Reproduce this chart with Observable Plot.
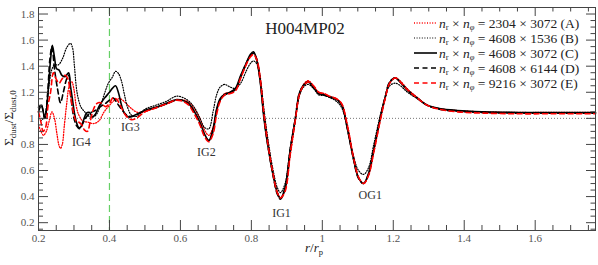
<!DOCTYPE html>
<html>
<head>
<meta charset="utf-8">
<script src="https://cdn.jsdelivr.net/npm/d3@7"></script>
<script src="https://cdn.jsdelivr.net/npm/@observablehq/plot@0.6"></script>
<style>
  html, body { margin: 0; padding: 0; background: #fff; }
  #chart { width: 598px; height: 265px; }
</style>
</head>
<body>
<div id="chart"></div>
<script>
// ---------- data ----------
const rOuter = [0.5, 0.53, 0.56, 0.59, 0.62, 0.64, 0.655, 0.668, 0.68, 0.692, 0.702, 0.712, 0.725, 0.74, 0.755, 0.77, 0.785, 0.797, 0.806, 0.815, 0.825, 0.835, 0.845, 0.86, 0.873, 0.882, 0.895, 0.91, 0.924, 0.935, 0.947, 0.96, 0.975, 0.99, 1.005, 1.02, 1.04, 1.055, 1.07, 1.087, 1.102, 1.116, 1.13, 1.145, 1.163, 1.177, 1.19, 1.206, 1.22, 1.24, 1.268, 1.296, 1.33, 1.38, 1.45, 1.55, 1.65, 1.77];

// (A) 2304 x 3072 red dotted
const rInA = [0.2, 0.207, 0.214, 0.222, 0.23, 0.238, 0.245, 0.252, 0.258, 0.262, 0.267, 0.273, 0.279, 0.286, 0.294, 0.3, 0.306, 0.313, 0.325, 0.34, 0.355, 0.37, 0.385, 0.4, 0.415, 0.43, 0.445, 0.46, 0.475, 0.49];
const vInA = [0.95, 0.9, 0.87, 0.9, 0.98, 1.05, 1.0, 0.88, 0.79, 0.77, 0.8, 0.95, 1.1, 1.24, 1.28, 1.22, 1.1, 1.03, 0.98, 0.97, 0.96, 0.98, 1.05, 1.1, 1.14, 1.15, 1.12, 1.08, 1.05, 1.045];
const vOutA = [1.05, 1.08, 1.11, 1.14, 1.13, 1.07, 1.0, 0.91, 0.87, 0.93, 1.05, 1.14, 1.19, 1.2, 1.22, 1.31, 1.41, 1.48, 1.5, 1.46, 1.32, 1.06, 0.86, 0.6, 0.44, 0.39, 0.45, 0.72, 0.98, 1.17, 1.26, 1.29, 1.25, 1.2, 1.19, 1.17, 1.15, 1.11, 0.96, 0.72, 0.55, 0.5, 0.56, 0.74, 0.98, 1.15, 1.27, 1.31, 1.285, 1.225, 1.16, 1.1, 1.075, 1.06, 1.05, 1.045, 1.045, 1.045];

// (B) 4608 x 1536 black dotted
const rInB = [0.2, 0.208, 0.217, 0.225, 0.231, 0.237, 0.245, 0.256, 0.268, 0.279, 0.29, 0.296, 0.301, 0.307, 0.313, 0.321, 0.332, 0.346, 0.36, 0.375, 0.386, 0.397, 0.408, 0.417, 0.425, 0.434, 0.442, 0.451, 0.462, 0.476];
const vInB = [1.0, 0.985, 1.02, 1.14, 1.28, 1.37, 1.41, 1.41, 1.46, 1.54, 1.575, 1.54, 1.41, 1.23, 1.14, 1.08, 1.045, 1.01, 1.02, 1.1, 1.19, 1.27, 1.315, 1.36, 1.345, 1.285, 1.185, 1.085, 1.025, 1.015];
const vOutB = [1.07, 1.1, 1.13, 1.17, 1.14, 1.08, 1.0, 0.93, 0.92, 1.05, 1.18, 1.24, 1.26, 1.24, 1.23, 1.27, 1.36, 1.42, 1.44, 1.42, 1.3, 1.08, 0.87, 0.62, 0.47, 0.43, 0.5, 0.78, 1.0, 1.17, 1.24, 1.26, 1.23, 1.18, 1.175, 1.16, 1.13, 1.08, 0.93, 0.72, 0.6, 0.57, 0.62, 0.8, 1.02, 1.16, 1.25, 1.27, 1.25, 1.2, 1.15, 1.1, 1.075, 1.06, 1.05, 1.045, 1.045, 1.045];

// (C) 4608 x 3072 black solid
const rInC = [0.2, 0.208, 0.218, 0.228, 0.234, 0.239, 0.245, 0.251, 0.258, 0.266, 0.275, 0.285, 0.29, 0.296, 0.301, 0.307, 0.313, 0.318, 0.327, 0.335, 0.344, 0.352, 0.36, 0.372, 0.386, 0.4, 0.408, 0.417, 0.425, 0.434, 0.442, 0.454, 0.468];
const vInC = [1.085, 1.1, 1.0, 1.24, 1.45, 1.56, 1.47, 1.38, 1.37, 1.33, 1.32, 1.35, 1.25, 1.14, 1.045, 0.97, 0.93, 0.93, 0.985, 1.04, 1.045, 1.01, 1.03, 1.1, 1.155, 1.2, 1.23, 1.25, 1.2, 1.1, 1.04, 1.01, 1.02];
const vOutC = [1.06, 1.085, 1.115, 1.145, 1.12, 1.05, 0.97, 0.88, 0.83, 0.92, 1.07, 1.15, 1.185, 1.2, 1.23, 1.33, 1.42, 1.49, 1.51, 1.45, 1.28, 1.01, 0.815, 0.58, 0.43, 0.385, 0.47, 0.77, 1.0, 1.19, 1.255, 1.28, 1.235, 1.19, 1.18, 1.165, 1.145, 1.1, 0.93, 0.7, 0.545, 0.5, 0.575, 0.76, 1.0, 1.16, 1.275, 1.31, 1.275, 1.215, 1.155, 1.1, 1.075, 1.06, 1.05, 1.045, 1.045, 1.045];

// (D) 4608 x 6144 black dashed
const rInD = [0.2, 0.208, 0.218, 0.226, 0.232, 0.238, 0.245, 0.254, 0.262, 0.27, 0.279, 0.285, 0.292, 0.3, 0.308, 0.315, 0.323, 0.332, 0.345, 0.36, 0.375, 0.389, 0.4, 0.411, 0.422, 0.437, 0.451, 0.465];
const vInD = [1.05, 1.1, 1.0, 1.2, 1.45, 1.55, 1.38, 1.22, 1.12, 1.2, 1.3, 1.33, 1.15, 1.0, 0.94, 0.92, 0.95, 1.0, 1.04, 1.06, 1.09, 1.115, 1.14, 1.155, 1.115, 1.06, 1.02, 1.015];
const vOutD = [1.06, 1.08, 1.11, 1.14, 1.12, 1.04, 0.96, 0.87, 0.83, 0.9, 1.06, 1.14, 1.18, 1.2, 1.22, 1.32, 1.42, 1.48, 1.5, 1.45, 1.29, 1.02, 0.82, 0.58, 0.42, 0.38, 0.46, 0.76, 1.0, 1.19, 1.25, 1.28, 1.24, 1.19, 1.18, 1.165, 1.145, 1.1, 0.93, 0.7, 0.54, 0.5, 0.57, 0.76, 1.0, 1.16, 1.28, 1.31, 1.28, 1.22, 1.155, 1.1, 1.07, 1.055, 1.045, 1.04, 1.04, 1.04];

// (E) 9216 x 3072 red dashed
const rInE = [0.2, 0.207, 0.213, 0.22, 0.227, 0.234, 0.242, 0.25, 0.258, 0.266, 0.275, 0.283, 0.29, 0.298, 0.306, 0.314, 0.322, 0.33, 0.338, 0.346, 0.355, 0.365, 0.375, 0.389, 0.4, 0.411, 0.422, 0.434, 0.448, 0.462, 0.475];
const vInE = [1.05, 0.97, 0.9, 0.93, 1.1, 1.2, 1.35, 1.3, 1.27, 1.3, 1.33, 1.3, 1.18, 1.05, 0.98, 0.97, 0.95, 0.91, 0.9, 0.98, 1.07, 1.115, 1.12, 1.09, 1.115, 1.16, 1.14, 1.08, 1.015, 0.99, 1.0];
const vOutE = [1.05, 1.08, 1.11, 1.14, 1.11, 1.03, 0.95, 0.86, 0.82, 0.88, 1.03, 1.13, 1.18, 1.19, 1.21, 1.31, 1.41, 1.47, 1.49, 1.45, 1.3, 1.04, 0.83, 0.59, 0.43, 0.39, 0.44, 0.74, 0.99, 1.18, 1.25, 1.28, 1.25, 1.2, 1.19, 1.17, 1.15, 1.11, 0.95, 0.71, 0.55, 0.5, 0.56, 0.74, 0.98, 1.15, 1.27, 1.31, 1.28, 1.22, 1.155, 1.1, 1.07, 1.05, 1.04, 1.035, 1.035, 1.035];

const legendNr = ["2304", "4608", "4608", "4608", "9216"];
const legendNphi = ["3072", "1536", "3072", "6144", "3072"];
const legendTag = ["A", "B", "C", "D", "E"];

const gapLabels = ["IG4", "IG3", "IG2", "IG1", "OG1"];
const gapX = [0.321, 0.459, 0.673, 0.885, 1.135];
const gapY = [0.815, 0.93, 0.738, 0.27, 0.41];

const xMajor = [0.2, 0.4, 0.6, 0.8, 1.0, 1.2, 1.4, 1.6];
const yMajor = [0.2, 0.4, 0.6, 0.8, 1.0, 1.2, 1.4, 1.6, 1.8];
const refLine = [1];
const markerLine = [0.4];
const titleText = "H004MP02";

// ---------- styles ----------
const styles = [
  {stroke: "#ff0000", strokeWidth: 1.3, strokeDasharray: "1,1.6"},
  {stroke: "#000000", strokeWidth: 1.2, strokeDasharray: "1,1.6"},
  {stroke: "#000000", strokeWidth: 1.6},
  {stroke: "#000000", strokeWidth: 1.6, strokeDasharray: "5,3.5"},
  {stroke: "#ff0000", strokeWidth: 1.6, strokeDasharray: "5,3.5"}
];

function build(rIn, vIn, vOut) {
  const pts = rIn.map((r, i) => ({r, v: vIn[i]}));
  rOuter.forEach((r, i) => pts.push({r, v: vOut[i]}));
  return pts;
}
const series = [
  build(rInA, vInA, vOutA),
  build(rInB, vInB, vOutB),
  build(rInC, vInC, vOutC),
  build(rInD, vInD, vOutD),
  build(rInE, vInE, vOutE)
];

const xMinor = d3.range(0.25, 1.77, 0.05).filter(v => Math.abs(v / 0.2 - Math.round(v / 0.2)) > 1e-6);
const yMinor = d3.range(0.15, 1.85, 0.05).filter(v => Math.abs(v / 0.2 - Math.round(v / 0.2)) > 1e-6);

const W = 598, H = 265, mL = 38, mR = 3, mT = 7, mB = 35;
const fw = W - mL - mR, fh = H - mT - mB;
const fmt = d3.format("~g");
const tickColor = "#444";

const chart = Plot.plot({
  width: W, height: H,
  marginLeft: mL, marginRight: mR, marginTop: mT, marginBottom: mB,
  style: {fontFamily: "'Liberation Serif', 'DejaVu Serif', serif", fontSize: "11px", background: "white", color: "#444", overflow: "visible"},
  x: {domain: [0.2, 1.77]},
  y: {domain: [0.14, 1.85]},
  marks: [
    Plot.ruleY(refLine, {stroke: "#666", strokeWidth: 0.9, strokeDasharray: "1,2"}),
    Plot.ruleX(markerLine, {stroke: "#66d066", strokeWidth: 1.2, strokeDasharray: "7,4"}),
    ...series.map((s, i) => Plot.line(s, {x: "r", y: "v", curve: "catmull-rom", ...styles[i]})),
    Plot.text(gapLabels, {x: (d, i) => gapX[i], y: (d, i) => gapY[i], text: d => d, fontSize: 12, fill: "#333"}),
    Plot.text([titleText], {frameAnchor: "top", dx: -12, dy: 21, fontSize: 17, fill: "#222", lineAnchor: "middle"}),
    Plot.frame({stroke: "#444", strokeWidth: 1}),
    // inward ticks, bottom & top
    Plot.ruleX(xMajor, {x: d => d, insetTop: fh - 10, stroke: tickColor}),
    Plot.ruleX(xMinor, {x: d => d, insetTop: fh - 5, stroke: tickColor}),
    Plot.ruleX(xMajor, {x: d => d, insetBottom: fh - 9, stroke: tickColor}),
    Plot.ruleX(xMinor, {x: d => d, insetBottom: fh - 4.5, stroke: tickColor}),
    // inward ticks, left & right
    Plot.ruleY(yMajor, {y: d => d, insetRight: fw - 10, stroke: tickColor}),
    Plot.ruleY(yMinor, {y: d => d, insetRight: fw - 5, stroke: tickColor}),
    Plot.ruleY(yMajor, {y: d => d, insetLeft: fw - 9, stroke: tickColor}),
    Plot.ruleY(yMinor, {y: d => d, insetLeft: fw - 4.5, stroke: tickColor}),
    Plot.axisX(xMajor, {tickSize: 0, tickPadding: 4, tickFormat: fmt, label: null, fill: "#555"}),
    Plot.axisY(yMajor, {tickSize: 0, tickPadding: 4, tickFormat: fmt, label: null, fill: "#555"})
  ]
});

document.getElementById("chart").appendChild(chart);

// ---------- legend and axis labels drawn into the SVG ----------
const svg = d3.select(chart);
const serif = "'Liberation Serif', 'DejaVu Serif', serif";
const lg = svg.append("g").attr("font-family", serif).attr("font-size", 13.5).attr("fill", "#222").attr("text-anchor", "start");
const rowY = [23, 38, 53, 68, 83];
legendTag.forEach((tag, i) => {
  const s = styles[i];
  lg.append("line").attr("x1", 414).attr("x2", 437).attr("y1", rowY[i]).attr("y2", rowY[i])
    .attr("stroke", s.stroke).attr("stroke-width", s.strokeWidth)
    .attr("stroke-dasharray", s.strokeDasharray || null);
  const t = lg.append("text").attr("x", 439).attr("y", rowY[i] + 4.5).attr("text-anchor", "start");
  t.append("tspan").attr("font-style", "italic").text("n");
  t.append("tspan").attr("font-size", 8.5).attr("dy", 2.5).text("r");
  t.append("tspan").attr("dy", -2.5).text(" × ");
  t.append("tspan").attr("font-style", "italic").text("n");
  t.append("tspan").attr("font-size", 8.5).attr("dy", 2.5).attr("font-style", "italic").text("φ");
  t.append("tspan").attr("dy", -2.5).text(` = ${legendNr[i]} × ${legendNphi[i]} (${tag})`);
});

// y label
const yl = svg.append("text").attr("font-family", serif).attr("font-size", 13).attr("fill", "#222")
  .attr("text-anchor", "middle").attr("transform", "translate(13,118) rotate(-90)");
yl.append("tspan").text("Σ");
yl.append("tspan").attr("font-size", 9).attr("dy", 2.5).text("dust");
yl.append("tspan").attr("dy", -2.5).text("/Σ");
yl.append("tspan").attr("font-size", 9).attr("dy", 2.5).text("dust,0");

// x label
const xl = svg.append("text").attr("font-family", serif).attr("font-size", 13).attr("fill", "#222")
  .attr("text-anchor", "middle").attr("x", 314).attr("y", 252);
xl.append("tspan").attr("font-style", "italic").text("r");
xl.append("tspan").text("/");
xl.append("tspan").attr("font-style", "italic").text("r");
xl.append("tspan").attr("font-size", 8.5).attr("dy", 2.5).text("p");
</script>
</body>
</html>
